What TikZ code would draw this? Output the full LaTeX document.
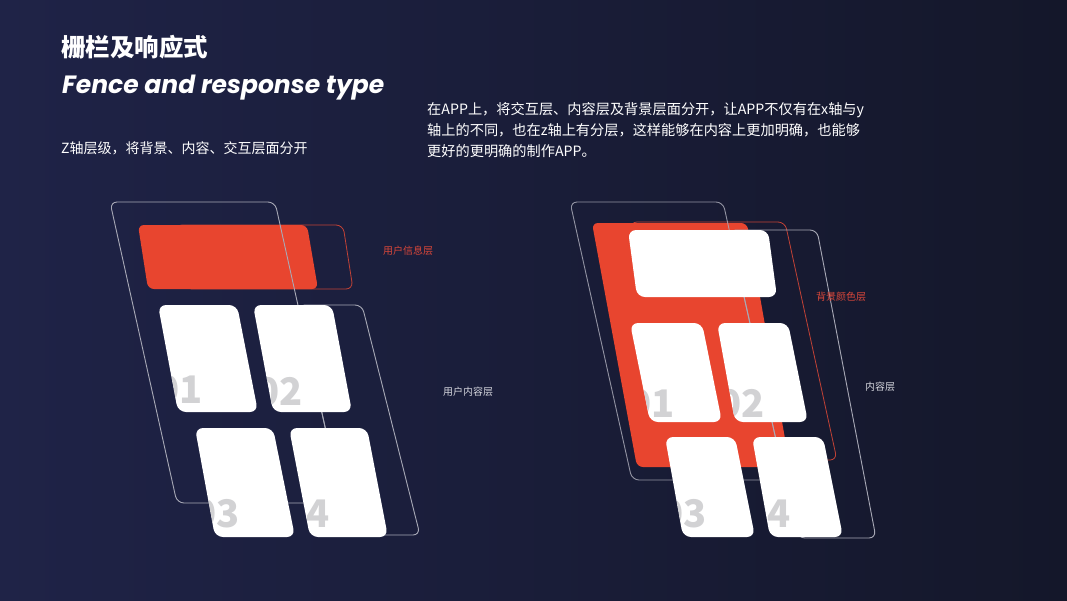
\documentclass[tikz,border=0pt]{standalone}
\usepackage{fontspec}
\newfontfamily\cjk{Noto Sans CJK SC}
\newfontfamily\popfont{Poppins}
\definecolor{bgA}{HTML}{1F2347}
\definecolor{bgB}{HTML}{14172A}
\definecolor{redF}{HTML}{E8452F}
\definecolor{redL}{HTML}{C24236}
\definecolor{redT}{HTML}{D9473A}
\definecolor{lineG}{HTML}{A8A9B6}
\definecolor{numG}{HTML}{D2D2D4}
\definecolor{labG}{HTML}{D6D7DE}
\newcommand\numcard[4]{%
  \fill[card] #1;
  \begin{scope}
    \clip[rounded corners=8pt] #1;
    \node[num] (#4) at #2 {#3};
  \end{scope}}
\begin{document}
\begin{tikzpicture}[x=1pt,y=-1pt,
  card/.style={fill=white, rounded corners=8pt},
  outl/.style={draw=lineG, line width=0.9pt, rounded corners=7pt},
  redout/.style={draw=redL, line width=0.8pt, rounded corners=7pt},
  redfill/.style={fill=redF, rounded corners=6pt},
  num/.style={font=\cjk\bfseries\fontsize{38}{38}\selectfont, text=numG, anchor=base east, inner sep=0pt},
  lab/.style={font=\cjk\fontsize{10}{12}\selectfont, inner sep=0pt}]
\useasboundingbox (0,0) rectangle (1067,600);
\shade[left color=bgA, right color=bgB] (0,0) rectangle (1067,600);

% titles
\node[anchor=west, inner sep=0pt, text=white, font=\cjk\bfseries\fontsize{24.5}{26}\selectfont] (title) at (61,47) {栅栏及响应式};
\node[anchor=west, inner sep=0pt, text=white, font=\popfont\bfseries\itshape\fontsize{25}{27}\selectfont] (subtitle) at (62,88) {Fence and response type};
\node[anchor=west, inner sep=0pt, text=white, font=\cjk\fontsize{14}{21}\selectfont] (cap) at (61,148) {Z轴层级，将背景、内容、交互层面分开};
\node[anchor=north west, inner sep=0pt, text=white, align=left, font=\cjk\fontsize{14.2}{21}\selectfont] (para) at (427,102)
  {在APP上，将交互层、内容层及背景层面分开，让APP不仅有在x轴与y\\轴上的不同，也在z轴上有分层，这样能够在内容上更加明确，也能够\\更好的更明确的制作APP。};

% ---------- left diagram ----------
\draw[redout] (175,225) -- (343,225) -- (353,289) -- (185,289) -- cycle;
\fill[redfill] (138,225) -- (307,225) -- (318,289) -- (148,289) -- cycle;
\draw[outl] (110,202) -- (275,202) -- (342,503) -- (177,503) -- cycle;
\draw[outl] (298,305) -- (362,305) -- (420,535) -- (349,535) -- cycle;
\numcard{(158,305) -- (237,305) -- (258,412) -- (178,412) -- cycle}{(203,403)}{01}{nA}
\numcard{(253,305) -- (332,305) -- (352,412) -- (273,412) -- cycle}{(303,405)}{02}{nB}
\numcard{(195,428) -- (273,428) -- (295,537) -- (215,537) -- cycle}{(240,527)}{03}{nC}
\numcard{(289,428) -- (367,428) -- (388,537) -- (310,537) -- cycle}{(330,527)}{04}{nD}
\node[lab, text=redT] (l1) at (408,251) {用户信息层};
\node[lab, text=labG] (l2) at (468,392) {用户内容层};

% ---------- right diagram ----------
\draw[redout] (630,222) -- (785,222) -- (837,460) -- (682,460) -- cycle;
\fill[redfill] (592,223) -- (747,223) -- (790,467) -- (637,467) -- cycle;
\draw[outl, draw opacity=0.85] (570,202) -- (723,202) -- (785,480) -- (632,480) -- cycle;
\draw[outl] (729,230) -- (817,230) -- (876,538) -- (798,538) -- cycle;
\fill[card] (628,230) -- (768,230) -- (777,297) -- (637,297) -- cycle;
\numcard{(630,323) -- (702,323) -- (722,422) -- (650,422) -- cycle}{(675,417)}{01}{mA}
\numcard{(717,323) -- (788,323) -- (808,422) -- (735,422) -- cycle}{(765,417)}{02}{mB}
\numcard{(665,437) -- (735,437) -- (755,537) -- (683,537) -- cycle}{(707,527)}{03}{mC}
\numcard{(752,437) -- (823,437) -- (843,537) -- (770,537) -- cycle}{(791,527)}{04}{mD}
\node[lab, text=redT] (r1) at (841,297) {背景颜色层};
\node[lab, text=labG] (r2) at (880,387) {内容层};
\end{tikzpicture}
\end{document}
